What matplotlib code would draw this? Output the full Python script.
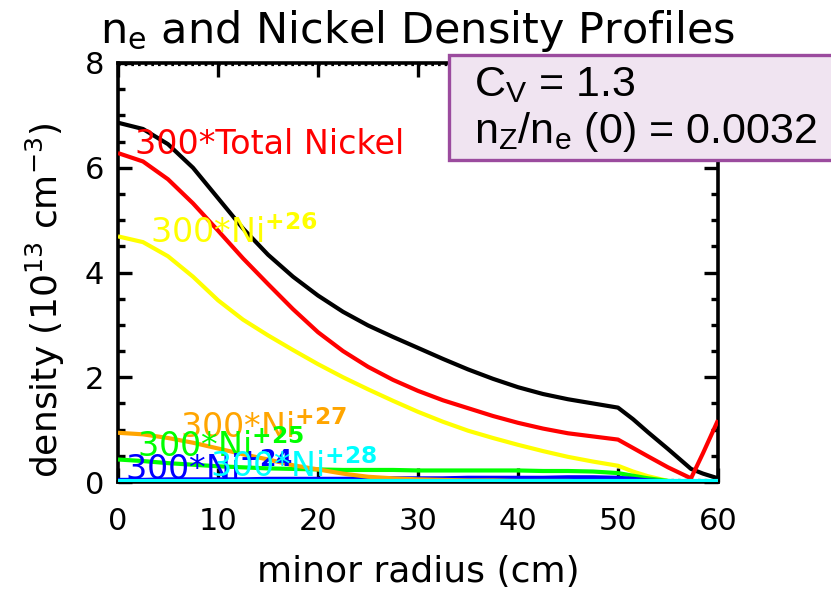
import matplotlib
matplotlib.use("Agg")
import matplotlib.pyplot as plt
from matplotlib.patches import Rectangle
from matplotlib.ticker import MultipleLocator

plt.rcParams['font.family'] = ['DejaVu Sans']
plt.rcParams['mathtext.fontset'] = 'custom'
plt.rcParams['mathtext.rm'] = 'DejaVu Sans'
plt.rcParams['mathtext.bf'] = 'DejaVu Sans:bold'
plt.rcParams['mathtext.sf'] = 'Liberation Sans'

# ---------------- data ----------------
radius = [0, 2.5, 5, 7.5, 10, 12.5, 15, 17.5, 20, 22.5, 25, 27.5, 30, 32.5, 35,
          37.5, 40, 42.5, 45, 47.5, 50, 51.5, 53, 55, 57.3, 58.5, 60]

n_e = [6.86, 6.74, 6.45, 6.00, 5.42, 4.84, 4.34, 3.92, 3.56, 3.25, 2.99, 2.77,
       2.56, 2.35, 2.15, 1.97, 1.81, 1.68, 1.58, 1.50, 1.42, 1.20, 0.95, 0.63,
       0.25, 0.16, 0.07]
total_ni = [6.28, 6.12, 5.78, 5.32, 4.80, 4.27, 3.78, 3.30, 2.86, 2.50, 2.20,
            1.95, 1.74, 1.56, 1.41, 1.26, 1.13, 1.02, 0.93, 0.87, 0.81, 0.65,
            0.49, 0.28, 0.07, 0.55, 1.18]
ni26 = [4.69, 4.58, 4.31, 3.92, 3.47, 3.10, 2.80, 2.52, 2.25, 2.00, 1.77, 1.55,
        1.34, 1.15, 0.98, 0.84, 0.71, 0.59, 0.48, 0.39, 0.31, 0.20, 0.11, 0.02,
        0.0, 0.0, 0.0]
ni25 = [0.43, 0.40, 0.36, 0.33, 0.30, 0.28, 0.26, 0.25, 0.24, 0.23, 0.23, 0.23,
        0.22, 0.22, 0.22, 0.22, 0.22, 0.21, 0.21, 0.20, 0.17, 0.12, 0.07, 0.02,
        0.0, 0.0, 0.0]
ni24 = [0.04, 0.04, 0.05, 0.05, 0.05, 0.05, 0.06, 0.06, 0.06, 0.06, 0.07, 0.07,
        0.07, 0.07, 0.08, 0.08, 0.08, 0.08, 0.09, 0.09, 0.08, 0.06, 0.03, 0.01,
        0.0, 0.0, 0.0]
ni27 = [0.94, 0.91, 0.84, 0.75, 0.64, 0.53, 0.43, 0.32, 0.24, 0.16, 0.10, 0.07,
        0.05, 0.04, 0.03, 0.03, 0.02, 0.02, 0.02, 0.01, 0.01, 0.01, 0.0, 0.0,
        0.0, 0.0, 0.0]
ni28 = [0.01] * len(radius)

series = [
    ("n_e", n_e, "black"),
    ("Total Nickel", total_ni, "#ff0000"),
    ("Ni+26", ni26, "#ffff00"),
    ("Ni+25", ni25, "#00ff00"),
    ("Ni+24", ni24, "#0000ff"),
    ("Ni+27", ni27, "#ffa500"),
    ("Ni+28", ni28, "#00ffff"),
]

labels = [
    (r"300*Total Nickel", 1.7, 6.45, "#ff0000"),
    (r"300*Ni$^{\mathbf{+26}}$", 3.2, 4.77, "#ffff00"),
    (r"300*Ni$^{\mathbf{+27}}$", 6.2, 1.03, "#ffa500"),
    (r"300*Ni$^{\mathbf{+25}}$", 1.9, 0.67, "#00ff00"),
    (r"300*Ni$^{\mathbf{+24}}$", 0.7, 0.23, "#0000ff"),
    (r"300*Ni$^{\mathbf{+28}}$", 9.2, 0.29, "#00ffff"),
]

# ---------------- figure ----------------
fig = plt.figure(figsize=(8.31, 5.93), dpi=100)
ax = fig.add_axes([118 / 831, 1 - 482 / 593, 600 / 831, 419 / 593])

for name, vals, col in series:
    ax.plot(radius, vals, color=col, lw=3.0, solid_capstyle='butt',
            solid_joinstyle='round', zorder=3)

ax.axhline(0.03, color='black', lw=1.6, ls=(0, (1.2, 1.8)), zorder=2)
ax.axhline(7.96, color='black', lw=1.6, ls=(0, (1.2, 1.8)), zorder=2)

for txt, x, y, col in labels:
    ax.text(x, y, txt, color=col, fontsize=24, va='center', ha='left', zorder=5)

ax.set_xlim(0, 60)
ax.set_ylim(0, 8)
ax.xaxis.set_major_locator(MultipleLocator(10))
ax.yaxis.set_major_locator(MultipleLocator(2))
ax.yaxis.set_minor_locator(MultipleLocator(0.5))
ax.tick_params(which='both', direction='in', top=True, right=True, width=2.4,
               labelsize=22)
ax.tick_params(which='major', length=10)
ax.tick_params(which='minor', length=5)
ax.tick_params(axis='x', pad=18)
ax.tick_params(axis='y', pad=10)
for sp in ax.spines.values():
    sp.set_linewidth(2.6)

ax.set_xlabel("minor radius (cm)", fontsize=26)
ax.xaxis.set_label_coords(0.5, -(572 - 482) / 419)
ax.xaxis.label.set_va('center')
ax.set_ylabel(r"density (10$^{13}$ cm$^{-3}$)", fontsize=26)
ax.yaxis.set_label_coords(-(118 - 45) / 600, (482 - 300) / 419)
ax.yaxis.label.set_va('center')

fig.text(418 / 831, 1 - 43 / 593, r"n$_\mathrm{e}$ and Nickel Density Profiles",
         fontsize=31, ha='center', va='baseline')

# info box
box = Rectangle((449 / 831, 1 - 160 / 593), 400 / 831, 105 / 593,
                transform=fig.transFigure, facecolor='#f0e4f1',
                edgecolor='#9b4b9e', lw=2.4, zorder=10, clip_on=False)
fig.patches.append(box)
fig.text(474 / 831, 1 - 96 / 593, r"C$_\mathsf{V}$ = 1.3", fontsize=31,
         family='Liberation Sans', ha='left', va='baseline', zorder=11)
fig.text(474 / 831, 1 - 143 / 593, r"n$_\mathsf{Z}$/n$_\mathsf{e}$ (0) = 0.0032",
         fontsize=31, family='Liberation Sans', ha='left', va='baseline', zorder=11)

fig.savefig("out.png", dpi=100)
